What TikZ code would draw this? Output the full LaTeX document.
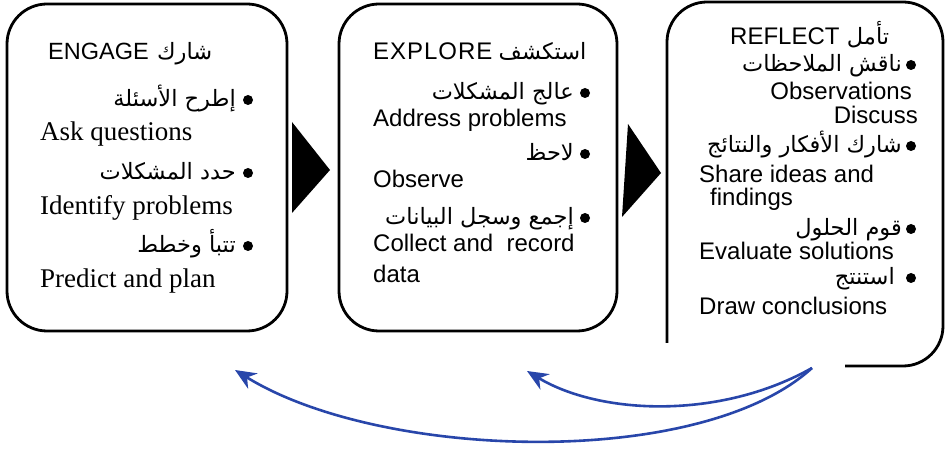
\documentclass[tikz,border=0pt]{standalone}
\usepackage{fontspec}
\setmainfont{Liberation Serif}
\setsansfont{Liberation Sans}
\newfontfamily\arabicfont[Script=Arabic]{DejaVu Sans}
\TeXXeTstate=1
\usetikzlibrary{arrows.meta}

\definecolor{cycleblue}{RGB}{40,70,170}

\tikzset{
  stage/.style={draw=black, line width=2.8pt, rounded corners=40pt},
  pointer/.style={fill=black},
  en/.style={inner sep=0pt, anchor=base west, font=\fontsize{24}{24}\selectfont\sffamily},
  enr/.style={en, anchor=base east},
  ar/.style={inner sep=0pt, anchor=base east, font=\fontsize{22.5}{22.5}\selectfont\arabicfont},
  serif/.style={inner sep=0pt, anchor=base west, font=\fontsize{27}{27}\selectfont\rmfamily},
  dot/.style={circle, fill=black, inner sep=0pt, minimum size=10pt},
  back/.style={draw=cycleblue, line width=2.6pt, -{Stealth[length=21pt,width=18pt]}},
}

\begin{document}
\begin{tikzpicture}[x=1pt, y=-1pt]
\useasboundingbox[fill=white] (0,0) rectangle (948,454);

% the three stage boxes
\draw[stage] (7,4) rectangle (287,331);
\draw[stage] (339,4) rectangle (617,331);
\draw[stage] (667,343) -- (667,2) -- (943,2) -- (943,366) -- (845,366);

% pointers between the stages
\fill[pointer] (292,122) -- (330,170) -- (292,213) -- cycle;
\fill[pointer] (628,124) -- (661,173) -- (622,217) -- cycle;

% ENGAGE
\node[en, font=\fontsize{23.5}{23.5}\selectfont\sffamily] (h1) at (48,60) {ENGAGE};
\node[ar, anchor=base west] (h1a) at ([xshift=8pt]h1.base east) {\beginR شارك\endR};
\node[dot] (d11) at (248,100) {};
\node[ar] (a11) at (236,107) {\beginR إطرح الأسئلة\endR};
\node[serif] (e11) at (40,141) {Ask questions};
\node[dot] (d12) at (248,173) {};
\node[ar] (a12) at (236,180) {\beginR حدد المشكلات\endR};
\node[serif] (e12) at (40,215) {Identify problems};
\node[dot] (d13) at (248,246) {};
\node[ar] (a13) at (236,253) {\beginR تتبأ وخطط\endR};
\node[serif] (e13) at (40,288) {Predict and plan};

% EXPLORE
\node[en, font=\fontsize{24}{24}\selectfont\sffamily\addfontfeatures{LetterSpace=4}] (h2) at (373,60) {EXPLORE};
\node[ar, anchor=base west] (h2a) at ([xshift=6pt]h2.base east) {\beginR استكشف\endR};
\node[dot] (d21) at (585,93) {};
\node[ar] (a21) at (574,100) {\beginR عالج المشكلات\endR};
\node[en] (e21) at (373,127) {Address problems};
\node[dot] (d22) at (585,154) {};
\node[ar] (a22) at (574,161) {\beginR لاحظ\endR};
\node[en] (e22) at (373,188) {Observe};
\node[dot] (d23) at (585,218) {};
\node[ar] (a23) at (574,225) {\beginR إجمع وسجل البيانات\endR};
\node[en] (e23) at (373,252) {Collect and~ record};
\node[en] (e24) at (373,283) {data};

% REFLECT
\node[en] (h3) at (730,45) {REFLECT};
\node[ar, anchor=base west] (h3a) at ([xshift=7pt]h3.base east) {\beginR تأمل\endR};
\node[dot] (d31) at (911,65) {};
\node[ar] (a31) at (902,72) {\beginR ناقش الملاحظات\endR};
\node[enr] (e31) at (912,100) {Observations};
\node[enr] (e32) at (918,124) {Discuss};
\node[dot] (d32) at (911,146) {};
\node[ar] (a32) at (902,153) {\beginR شارك الأفكار والنتائج\endR};
\node[en] (e33) at (699,183) {Share ideas and};
\node[en] (e34) at (710,206) {findings};
\node[dot] (d33) at (911,229) {};
\node[ar] (a33) at (902,236) {\beginR قوم الحلول\endR};
\node[en] (e35) at (699,260) {Evaluate solutions};
\node[dot] (d34) at (911,278) {};
\node[ar] (a34) at (895,285) {\beginR استنتج\endR};
\node[en] (e36) at (699,315) {Draw conclusions};

% return arrows of the cycle
\coordinate (src) at (812,368);
\coordinate (toengage) at (235,370);
\coordinate (toexplore) at (527,371);
\draw[back] (src) .. controls (700,470) and (380,460) .. (toengage);
\draw[back] (src) .. controls (720,420) and (600,415) .. (toexplore);
\end{tikzpicture}
\end{document}
